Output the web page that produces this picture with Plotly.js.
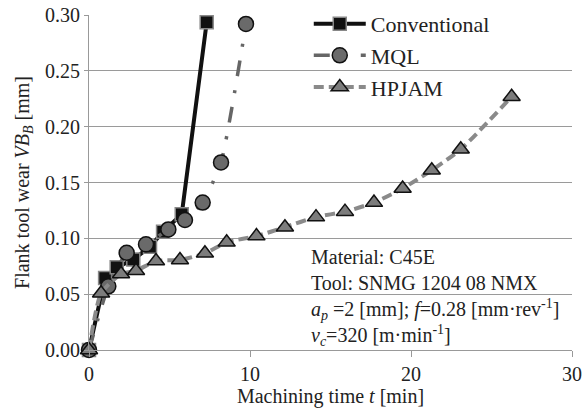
<!DOCTYPE html>
<html>
<head>
<meta charset="utf-8">
<script src="https://cdn.plot.ly/plotly-3.0.1.min.js"></script>
<style>html,body{margin:0;padding:0;background:#fff}#chart{width:587px;height:409px}</style>
</head>
<body>
<div id="chart"></div>
<script>
const convTime = [0, 1.0, 1.72, 2.75, 3.79, 4.6, 5.76, 7.31];
const convWear = [0, 0.0645, 0.074, 0.081, 0.0925, 0.106, 0.1215, 0.2935];
const mqlTime = [0, 1.2, 2.34, 3.54, 4.93, 5.96, 7.06, 8.2, 9.75];
const mqlWear = [0, 0.057, 0.087, 0.0946, 0.108, 0.1164, 0.132, 0.168, 0.292];
const hpjamTime = [0, 0.75, 1.99, 2.92, 4.16, 5.65, 7.2, 8.55, 10.4, 12.17, 14.1, 15.9, 17.7, 19.48, 21.29, 23.09, 26.25];
const hpjamWear = [0, 0.0508, 0.068, 0.071, 0.0797, 0.0806, 0.0866, 0.0964, 0.102, 0.110, 0.119, 0.1239, 0.132, 0.1447, 0.161, 0.1797, 0.2268];
const xTicks = [0, 10, 20, 30];
const yTicks = [0, 0.05, 0.10, 0.15, 0.20, 0.25, 0.30];
const noteText = 'Material: C45E<br>Tool: SNMG 1204 08 NMX<br><i>a<sub>p</sub></i> =2 [mm]; <i>f</i>=0.28 [mm·rev<sup>-1</sup>]<br><i>v<sub>c</sub></i>=320 [m·min<sup>-1</sup>]';

const FONT = 'Liberation Serif';

const traces = [
  {
    x: convTime, y: convWear, name: 'Conventional', mode: 'lines+markers',
    line: {color: '#111111', width: 4},
    marker: {symbol: 'square', size: 13, color: '#111111', line: {color: '#888888', width: 1.5}},
    cliponaxis: false
  },
  {
    x: mqlTime, y: mqlWear, name: 'MQL', mode: 'lines+markers',
    line: {color: '#666666', width: 3.5, dash: '16px,14px,3px,14px', shape: 'spline', smoothing: 0.5},
    marker: {symbol: 'circle', size: 15, color: '#6a6a6a', line: {color: '#111111', width: 1.5}},
    cliponaxis: false
  },
  {
    x: hpjamTime, y: hpjamWear, name: 'HPJAM', mode: 'lines+markers',
    line: {color: '#8a8a8a', width: 4, dash: '10px,5px', shape: 'spline', smoothing: 0.6},
    marker: {symbol: 'triangle-up', size: 15, color: '#7c7c7c', line: {color: '#111111', width: 1.5}},
    cliponaxis: false
  }
];

const layout = {
  width: 587, height: 409,
  margin: {l: 89, r: 15, t: 15, b: 59, autoexpand: false},
  paper_bgcolor: '#ffffff', plot_bgcolor: '#ffffff',
  font: {family: FONT, size: 20, color: '#222222'},
  showlegend: true,
  legend: {
    x: 0.455, y: 1.036, xanchor: 'left', yanchor: 'top',
    bgcolor: 'rgba(0,0,0,0)', borderwidth: 0,
    font: {family: FONT, size: 22, color: '#222222'},
    itemwidth: 52, tracegroupgap: 0
  },
  xaxis: {
    range: [0, 30], tickvals: xTicks, ticktext: xTicks.map(String),
    showgrid: false, zeroline: false,
    showline: true, linecolor: '#999999', linewidth: 1,
    ticks: 'outside', ticklen: 6, tickcolor: '#999999',
    tickfont: {family: FONT, size: 20, color: '#222222'},
    title: {text: 'Machining time <i>t</i> [min]', font: {family: FONT, size: 20, color: '#222222'}, standoff: 2}
  },
  yaxis: {
    range: [0, 0.30], tickvals: yTicks, ticktext: yTicks.map(v => v.toFixed(2)),
    showgrid: true, gridcolor: '#9a9a9a', gridwidth: 1, zeroline: false,
    showline: true, linecolor: '#999999', linewidth: 1,
    ticks: 'outside', ticklen: 4, tickcolor: '#999999',
    tickfont: {family: FONT, size: 20, color: '#222222'},
    title: {text: 'Flank tool wear <i>VB<sub>B</sub></i> [mm]', font: {family: FONT, size: 20, color: '#222222'}, standoff: 10}
  },
  annotations: [{
    xref: 'paper', yref: 'paper', x: 0.456, y: 0.316, xanchor: 'left', yanchor: 'top',
    text: noteText, showarrow: false, align: 'left',
    font: {family: FONT, size: 20, color: '#222222'}
  }]
};

Plotly.newPlot('chart', traces, layout, {staticPlot: true, displayModeBar: false});
</script>
</body>
</html>
